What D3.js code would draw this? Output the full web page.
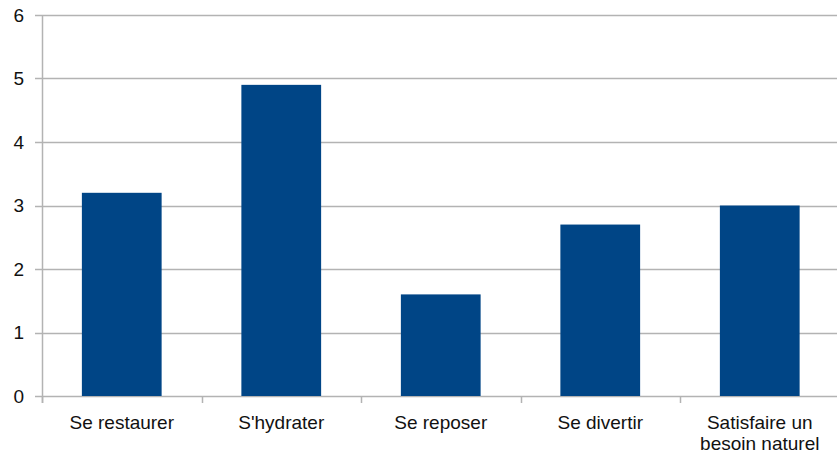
<!DOCTYPE html>
<html><head><meta charset="utf-8">
<script src="https://cdn.jsdelivr.net/npm/d3@7"></script>
<style>body{margin:0;background:#fff}svg{display:block}</style>
</head><body>
<script>
const categories = ["Se restaurer", "S'hydrater", "Se reposer", "Se divertir", "Satisfaire un|besoin naturel"];
const values = [3.2, 4.9, 1.6, 2.7, 3.0];
const yTicks = [0, 1, 2, 3, 4, 5, 6];

const W = 837, H = 453;
const m = {left: 42, top: 15, right: -2.5, bottom: 57};
const svg = d3.select("body").append("svg").attr("width", W).attr("height", H);
const x = d3.scaleBand().domain(categories).range([m.left, W - m.right]).paddingInner(0.5).paddingOuter(0.25);
const y = d3.scaleLinear().domain([0, 6]).range([H - m.bottom, m.top]);
const font = "'Liberation Sans', Arial, sans-serif";
const grid = "#b3b3b3";

// gridlines
svg.append("g").selectAll("line").data(yTicks).join("line")
  .attr("x1", m.left - 7).attr("x2", W).attr("y1", d => Math.round(y(d)) + 0.5).attr("y2", d => Math.round(y(d)) + 0.5)
  .attr("stroke", grid).attr("stroke-width", 1.5);

// bars
svg.append("g").selectAll("rect").data(values).join("rect")
  .attr("x", (d, i) => x(categories[i])).attr("width", x.bandwidth())
  .attr("y", d => y(d)).attr("height", d => y(0) - y(d))
  .attr("fill", "#004586");

// y axis line
svg.append("line").attr("x1", m.left + 0.5).attr("x2", m.left + 0.5).attr("y1", y(6)).attr("y2", y(0) + 7)
  .attr("stroke", grid).attr("stroke-width", 1.5);

// x ticks at category boundaries
const step = x.step();
const bounds = d3.range(categories.length + 1).map(i => m.left + i * step);
svg.append("g").selectAll("line").data(bounds).join("line")
  .attr("x1", d => Math.round(d) + 0.5).attr("x2", d => Math.round(d) + 0.5)
  .attr("y1", y(0)).attr("y2", y(0) + 7).attr("stroke", grid).attr("stroke-width", 1.5);

// y tick labels
svg.append("g").selectAll("text").data(yTicks).join("text")
  .attr("x", 24).attr("y", d => y(d)).attr("dy", "0.35em")
  .attr("text-anchor", "end").attr("font-family", font).attr("font-size", 19).attr("fill", "#111")
  .text(d => d);

// x labels
const xl = svg.append("g").selectAll("text").data(categories).join("text")
  .attr("x", d => x(d) + x.bandwidth() / 2).attr("y", 429)
  .attr("text-anchor", "middle").attr("font-family", font).attr("font-size", 19).attr("fill", "#111");
xl.each(function(d) {
  const parts = d.split("|");
  d3.select(this).selectAll("tspan").data(parts).join("tspan")
    .attr("x", x(d) + x.bandwidth() / 2).attr("dy", (p, i) => i === 0 ? 0 : 21).text(p => p);
});
</script>
</body></html>
